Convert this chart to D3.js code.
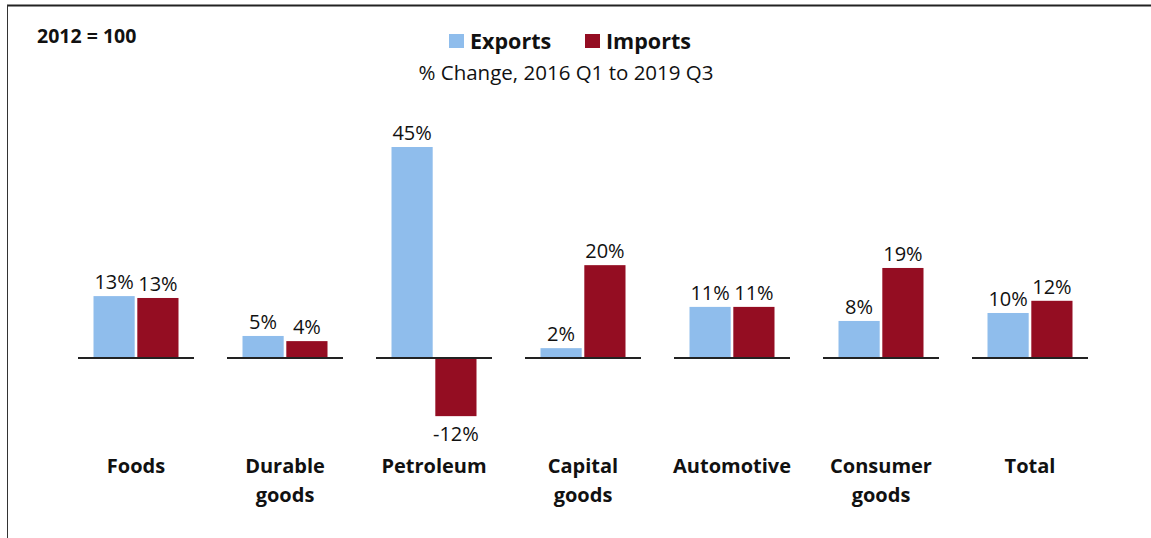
<!DOCTYPE html>
<html>
<head>
<meta charset="utf-8">
<script src="https://cdnjs.cloudflare.com/ajax/libs/d3/7.8.5/d3.min.js"></script>
<style>
  body { margin: 0; background: #fff; }
  text { font-family: "Open Sans", sans-serif; fill: #111; }
</style>
</head>
<body>
<div id="chart"></div>
<script>
// Chart data.
var categories = ['Foods', 'Durable goods', 'Petroleum', 'Capital goods', 'Automotive', 'Consumer goods', 'Total'];
var exportsPct = [13.2, 4.7, 45.0, 2.1, 10.9, 7.9, 9.6];
var importsPct = [12.8, 3.6, -12.4, 19.8, 10.9, 19.2, 12.2];
var seriesNames = ['Exports', 'Imports'];

var width = 1151, height = 538;
var colors = { Exports: '#8fbdec', Imports: '#940d22' };

var svg = d3.select('#chart').append('svg')
    .attr('width', width)
    .attr('height', height);

// frame: top and left edges
svg.append('line').attr('x1', 7).attr('y1', 5.5).attr('x2', width).attr('y2', 5.5)
    .style('stroke', '#222').style('stroke-width', 2);
svg.append('line').attr('x1', 7.5).attr('y1', 5).attr('x2', 7.5).attr('y2', height)
    .style('stroke', '#333').style('stroke-width', 1);

svg.append('text')
    .attr('x', 37).attr('y', 43)
    .style('font-size', '19.5px').style('font-weight', 'bold')
    .text('2012 = 100');

// legend
var legend = svg.append('g');
var legendX = { Exports: 449, Imports: 585 };
seriesNames.forEach(function(name) {
  legend.append('rect')
      .attr('x', legendX[name]).attr('y', 34)
      .attr('width', 15).attr('height', 14)
      .style('fill', colors[name]);
  legend.append('text')
      .attr('x', legendX[name] + 21).attr('y', 49)
      .style('font-size', '21.5px').style('font-weight', 'bold')
      .text(name);
});

svg.append('text')
    .attr('x', 566).attr('y', 80)
    .attr('text-anchor', 'middle')
    .style('font-size', '20.5px')
    .text('% Change, 2016 Q1 to 2019 Q3');

// scales
var x0 = d3.scaleBand().domain(categories).range([61.5, 1104.5]);
var x1 = d3.scaleBand().domain(seriesNames).range([0, 85]).paddingInner(0.06);
var y = d3.scaleLinear().domain([0, 45]).range([358, 147]);

var rows = categories.map(function(c, i) {
  return { cat: c, values: [
    { key: 'Exports', v: exportsPct[i] },
    { key: 'Imports', v: importsPct[i] }
  ]};
});

var groups = svg.selectAll('g.cat').data(rows);
groups = groups.enter().append('g')
    .classed('cat', true)
    .attr('transform', function(d) {
      return 'translate(' + (x0(d.cat) + x0.bandwidth() / 2 - 42.5) + ', 0)';
    });

groups.selectAll('rect.bar').data(function(d) { return d.values; })
  .enter().append('rect')
    .classed('bar', true)
    .attr('x', function(d) { return x1(d.key); })
    .attr('y', function(d) { return y(Math.max(0, d.v)); })
    .attr('width', x1.bandwidth())
    .attr('height', function(d) { return Math.abs(y(d.v) - y(0)); })
    .style('fill', function(d) { return colors[d.key]; });

// short baseline under each group
groups.append('line')
    .attr('x1', 42.5 - 58).attr('x2', 42.5 + 58)
    .attr('y1', y(0)).attr('y2', y(0))
    .style('stroke', '#222').style('stroke-width', 2);

groups.selectAll('text.val').data(function(d) { return d.values; })
  .enter().append('text')
    .classed('val', true)
    .attr('x', function(d) { return x1(d.key) + x1.bandwidth() / 2; })
    .attr('y', function(d) { return d.v >= 0 ? y(d.v) - 7 : y(d.v) + 25; })
    .attr('text-anchor', 'middle')
    .style('font-size', '20px')
    .text(function(d) { return Math.round(d.v) + '%'; });

// category labels, wrapped to two lines
groups.append('text')
    .attr('x', 42.5)
    .attr('text-anchor', 'middle')
    .style('font-size', '20px').style('font-weight', 'bold')
    .each(function(d) {
      var words = d.cat.split(' ');
      var t = d3.select(this);
      words.forEach(function(w, i) {
        t.append('tspan').attr('x', 42.5).attr('y', 473 + i * 29).text(w);
      });
    });
</script>
</body>
</html>
